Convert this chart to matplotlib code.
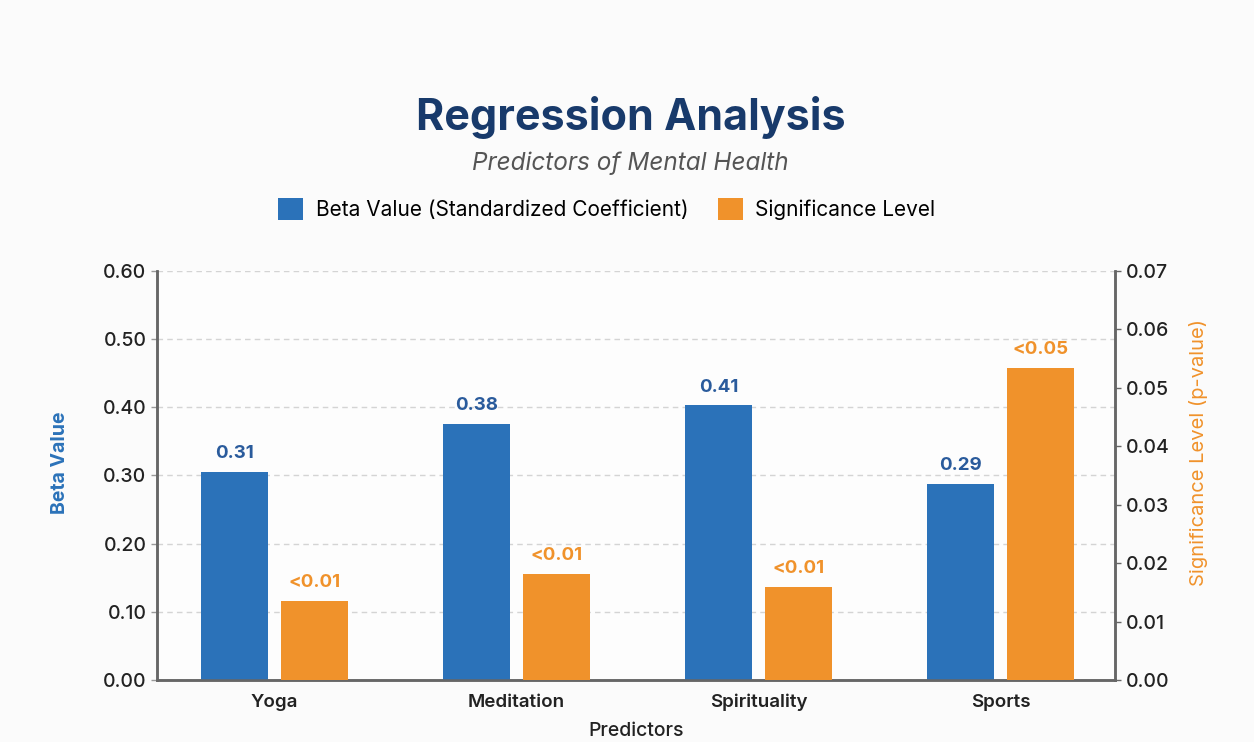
import matplotlib.pyplot as plt
import numpy as np
from matplotlib.patches import Patch

plt.rcParams['font.family'] = ['Inter', 'DejaVu Sans']

# data
predictors = ["Yoga", "Meditation", "Spirituality", "Sports"]
beta_values = [0.305, 0.376, 0.403, 0.288]
beta_labels = ["0.31", "0.38", "0.41", "0.29"]
p_values = [0.0135, 0.0181, 0.0159, 0.0534]
p_labels = ["<0.01", "<0.01", "<0.01", "<0.05"]

blue = "#2b72b9"
blue_text = "#2a5b9c"
orange = "#f0922b"
navy = "#183a6b"

fig = plt.figure(figsize=(12.54, 7.42), dpi=100, facecolor="#fbfbfb")
ax = fig.add_axes([0.1252, 0.0836, 0.764, 0.5512])
ax.set_facecolor("#fdfdfd")
ax2 = ax.twinx()

x = np.arange(len(predictors))
w = 0.275
off = 0.165

ax.bar(x - off, beta_values, w, color=blue, zorder=3)
ax2.bar(x + off, p_values, w, color=orange, zorder=3)

for xi, v, lab in zip(x, beta_values, beta_labels):
    ax.annotate(lab, (xi - off, v), xytext=(0, 7), textcoords="offset points",
                ha="center", va="bottom", fontsize=13.5, fontweight="bold", color=blue_text)
for xi, v, lab in zip(x, p_values, p_labels):
    ax2.annotate(lab, (xi + off, v), xytext=(0, 7), textcoords="offset points",
                 ha="center", va="bottom", fontsize=13.5, fontweight="bold", color=orange)

ax.set_xlim(-0.486, 3.473)
ax.set_ylim(0, 0.6)
ax2.set_ylim(0, 0.07)
ax.set_yticks(np.arange(0, 0.61, 0.1))
ax.set_yticklabels(["{:.2f}".format(t) for t in np.arange(0, 0.61, 0.1)])
ax2.set_yticks(np.arange(0, 0.071, 0.01))
ax2.set_yticklabels(["{:.2f}".format(t) for t in np.arange(0, 0.071, 0.01)])
ax.set_xticks(x)
ax.set_xticklabels(predictors, fontsize=13.5, fontweight="semibold", color="#222222")

ax.grid(axis="y", linestyle=(0, (4, 3)), color="#d4d4d4", linewidth=1, zorder=0)
ax.set_axisbelow(True)

for a in (ax, ax2):
    a.spines["top"].set_visible(False)
    for s in ("left", "right", "bottom"):
        a.spines[s].set_color("#666666")
        a.spines[s].set_linewidth(1.8)
    a.tick_params(axis="y", labelsize=14, colors="#222222", length=4, width=1)
    for t in a.get_yticklabels():
        t.set_fontweight("medium")
ax.tick_params(axis="y", color="#999999")
ax2.tick_params(axis="y", color="#666666")
ax.tick_params(axis="x", length=0, pad=10)

ax.set_xlabel("Predictors", fontsize=14, fontweight="medium", color="#222222", labelpad=8)
fig.text(0.048, 0.377, "Beta Value", rotation=90, ha="center", va="center",
         fontsize=14, fontweight="bold", color=blue)
fig.text(0.956, 0.39, "Significance Level (p-value)", rotation=90, ha="center", va="center",
         fontsize=14.5, color=orange)

fig.text(0.503, 0.841, "Regression Analysis", ha="center", va="center",
         fontsize=31, fontweight="bold", color=navy)
fig.text(0.503, 0.780, "Predictors of Mental Health", ha="center", va="center",
         fontsize=17.5, style="italic", color="#555555")

handles = [Patch(facecolor=blue, label="Beta Value (Standardized Coefficient)"),
           Patch(facecolor=orange, label="Significance Level")]
fig.legend(handles=handles, loc="center", bbox_to_anchor=(0.484, 0.718), ncol=2,
           frameon=False, fontsize=15, handlelength=1.2, handleheight=1.2,
           columnspacing=1.4, handletextpad=0.6)

fig.savefig("out.png", dpi=100, facecolor=fig.get_facecolor())
